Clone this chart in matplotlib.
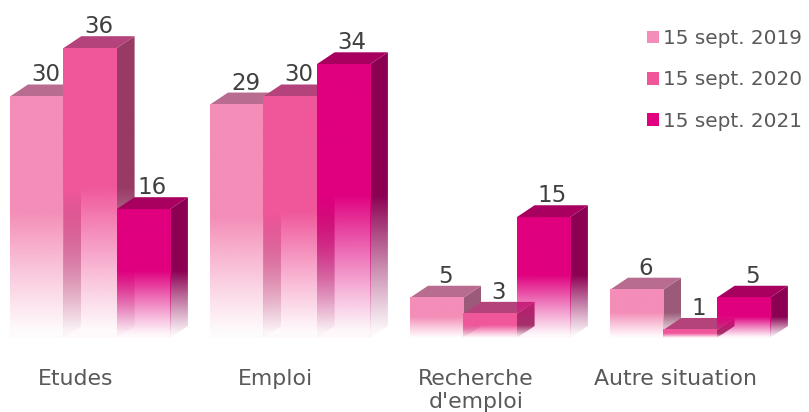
import numpy as np
import matplotlib
matplotlib.use("Agg")
import matplotlib.pyplot as plt
from matplotlib.patches import Polygon, Patch

# data
categories = ["Etudes", "Emploi", "Recherche\nd'emploi", "Autre situation"]
series = ["15 sept. 2019", "15 sept. 2020", "15 sept. 2021"]
v2019 = [30, 29, 5, 6]
v2020 = [36, 30, 3, 1]
v2021 = [16, 34, 15, 5]
values = [v2019, v2020, v2021]

# face colours per series: front, top, side
front_colors = ["#F48DB8", "#F0579B", "#E0007F"]
top_colors = ["#B86D90", "#B3437A", "#A8005F"]
side_colors = ["#9C5A79", "#983A66", "#8C0052"]

# pixel scale of the reference: 200 px per group, ~8.05 px per unit
PX_X = 200.0
PX_Y = 8.05
W, H = 809, 412
BASE = 74  # baseline, px from bottom

bar_w = 53.3 / PX_X
dx = 18 / PX_X
dy = 12 / PX_Y
FADE = 0.52   # lower part of each bar that fades out


def alpha_ramp(y0, y1, h, n=200):
    ys = np.linspace(y0, y1, n)
    a = np.clip(ys / (FADE * h), 0, 1) ** 1.1
    return np.clip(a, 0.03, 1)


def grad_face(ax, color, extent, h, clip=None, z=1):
    rgb = matplotlib.colors.to_rgb(color)
    a = alpha_ramp(extent[2], extent[3], h)
    img = np.zeros((len(a), 1, 4))
    img[:, 0, :3] = rgb
    img[:, 0, 3] = a
    im = ax.imshow(img, extent=extent, origin="lower", aspect="auto",
                   interpolation="bilinear", zorder=z)
    if clip is not None:
        ax.add_patch(clip)
        im.set_clip_path(clip)
    return im


fig = plt.figure(figsize=(W / 100, H / 100), dpi=100)
ax = fig.add_axes([0, 0, 1, 1])
ax.set_xlim(-90 / PX_X, (W - 90) / PX_X)
ax.set_ylim(-BASE / PX_Y, (H - BASE) / PX_Y)
ax.axis("off")

z = 1
for i in range(len(categories)):
    for j in range(len(series)):
        h = values[j][i]
        x0 = i - 0.4 + j * bar_w
        # side face
        side = Polygon([(x0 + bar_w, 0), (x0 + bar_w + dx, dy),
                        (x0 + bar_w + dx, h + dy), (x0 + bar_w, h)],
                       closed=True, facecolor="none", edgecolor="none", zorder=z)
        grad_face(ax, side_colors[j], [x0 + bar_w, x0 + bar_w + dx, 0, h + dy],
                  h, clip=side, z=z)
        # top face
        ax.add_patch(Polygon([(x0, h), (x0 + bar_w, h), (x0 + bar_w + dx, h + dy),
                              (x0 + dx, h + dy)], closed=True,
                             facecolor=top_colors[j], edgecolor="none", zorder=z + 1))
        # front face
        grad_face(ax, front_colors[j], [x0, x0 + bar_w, 0, h], h, z=z + 2)
        ax.text(x0 + bar_w / 2 + dx / 2, h + dy + 3 / PX_Y, str(h),
                ha="center", va="baseline", fontsize=16.5, color="#404040",
                zorder=50)
        z += 3

for i, cat in enumerate(categories):
    ax.text(i - 0.07, -3.85, cat, ha="center", va="top", fontsize=15.8,
            color="#595959", linespacing=1.2)

handles = [Patch(facecolor=c, edgecolor="none") for c in front_colors]
leg = ax.legend(handles, series, loc="upper left", bbox_to_anchor=(647 / W, 1 - 29 / H),
                bbox_transform=fig.transFigure, frameon=False, fontsize=14.4,
                handlelength=0.6, handleheight=0.6, handletextpad=0.2,
                labelspacing=1.12, borderaxespad=0, borderpad=0)
for t in leg.get_texts():
    t.set_color("#595959")

fig.savefig("out.png", dpi=100)
